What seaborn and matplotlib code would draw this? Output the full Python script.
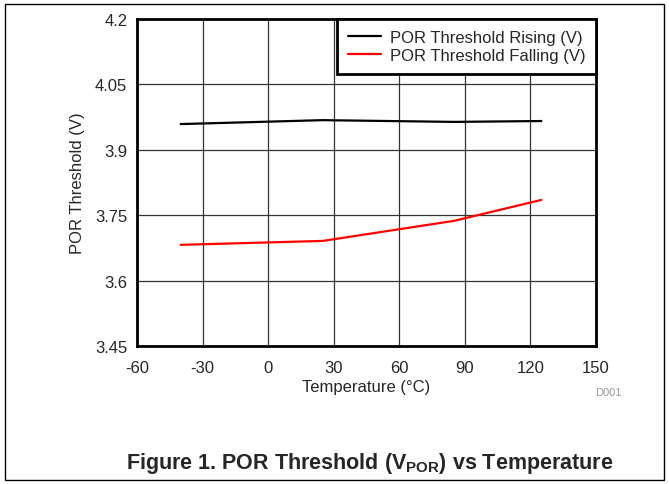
import matplotlib
matplotlib.use("Agg")
import matplotlib.pyplot as plt
import numpy as np
import pandas as pd
import seaborn as sns
from matplotlib.patches import Rectangle

sns.set_style("white")
plt.rcParams["font.family"] = ["Liberation Sans", "DejaVu Sans"]
plt.rcParams["mathtext.fontset"] = "custom"
plt.rcParams["mathtext.rm"] = "Liberation Sans:bold"
plt.rcParams["mathtext.bf"] = "Liberation Sans:bold"

# ==============================
# Dados
# ==============================

temperatura = [-40, 25, 85, 125]
rising = [3.959, 3.968, 3.964, 3.966]
falling = [3.682, 3.691, 3.737, 3.785]
series = ["POR Threshold Rising (V)", "POR Threshold Falling (V)"]
cores = ["black", "red"]

x_ticks = [-60, -30, 0, 30, 60, 90, 120, 150]
y_ticks = [3.45, 3.6, 3.75, 3.9, 4.05, 4.2]

df = pd.DataFrame({
    "temp": temperatura * 2,
    "valor": rising + falling,
    "serie": [series[0]] * len(temperatura) + [series[1]] * len(temperatura),
})

# ==============================
# Gráfico
# ==============================

fig = plt.figure(figsize=(6.69, 4.85), dpi=100)
ax = fig.add_axes([137 / 669, 1 - 347 / 485, (596 - 137) / 669, (347 - 20) / 485])

sns.lineplot(data=df, x="temp", y="valor", hue="serie", hue_order=series,
             palette=cores, linewidth=1.6, ax=ax)

ax.set_xlim(-60, 150)
ax.set_ylim(3.45, 4.2)
ax.set_xticks(x_ticks)
ax.set_yticks(y_ticks)
ax.set_xticklabels([str(t) for t in x_ticks])
ax.set_yticklabels(["3.45", "3.6", "3.75", "3.9", "4.05", "4.2"])
ax.tick_params(labelsize=12, length=0)
ax.tick_params(axis="x", pad=10)
ax.tick_params(axis="y", pad=7)
ax.grid(True, color="#333333", linewidth=0.9)
for s in ax.spines.values():
    s.set_color("black")
    s.set_linewidth(2)

ax.set_xlabel("Temperature (°C)", fontsize=12, labelpad=3)
ax.set_ylabel("POR Threshold (V)", fontsize=12, labelpad=7)

# legenda colada no canto superior direito, com borda grossa
leg = ax.legend(loc="upper right", borderaxespad=0, fontsize=12,
                handlelength=2.0, handletextpad=0.5, frameon=True,
                fancybox=False, borderpad=0.65, labelspacing=0.2)
leg.get_frame().set_edgecolor("black")
leg.get_frame().set_linewidth(2)
leg.get_frame().set_alpha(1)

fig.text(608 / 669, 1 - 393 / 485, "D001", fontsize=8, color="#999999",
         ha="center", va="center")
fig.text(370 / 669, 1 - 464 / 485,
         r"Figure 1. POR Threshold (V$_{\mathrm{POR}}$) vs Temperature",
         fontsize=15.5, fontweight="bold", ha="center", va="center")

fig.patches.append(Rectangle((5 / 669, 4 / 485), 659 / 669, 476 / 485,
                             transform=fig.transFigure, fill=False,
                             edgecolor="black", linewidth=1))

fig.savefig("out.png", dpi=100)
